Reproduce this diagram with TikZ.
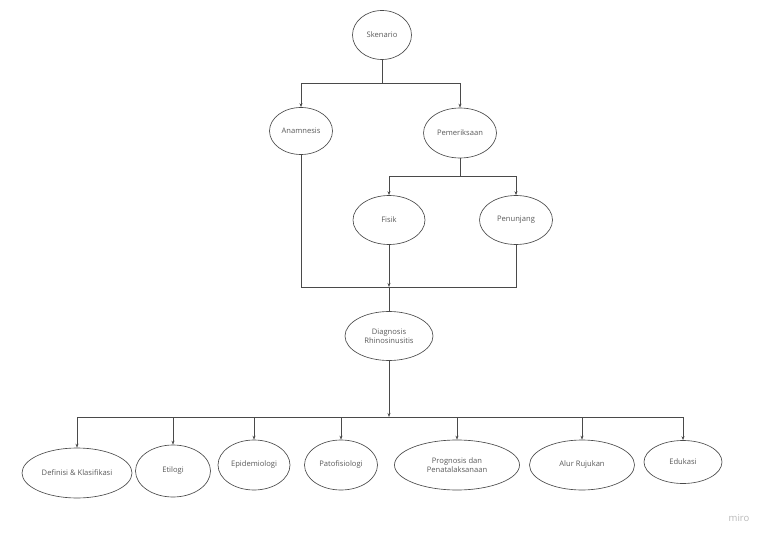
\documentclass[tikz,border=0pt]{standalone}
\usepackage{fontspec}
\setmainfont{Open Sans}
\usetikzlibrary{shapes.geometric,arrows.meta}

\definecolor{linegrey}{HTML}{4A4A4A}
\definecolor{textgrey}{HTML}{595959}

\begin{document}
\begin{tikzpicture}[x=1pt,y=-1pt,
                    topic/.style={ellipse,draw=linegrey,line width=0.65pt,inner sep=0pt,
                                  text=textgrey,font=\fontsize{7.6}{9.5}\selectfont,align=center},
                    link/.style={draw=linegrey,line width=0.65pt},
                    >={Stealth[length=4pt,width=3pt]}]

                    \useasboundingbox (0,0) rectangle (768,540);

                    % upper part
                    \node[topic,minimum width=59pt,minimum height=49pt] (sken) at (382,35) {Skenario};
                    \node[topic,minimum width=63pt,minimum height=47pt] (anam) at (301,131) {Anamnesis};
                    \node[topic,minimum width=73pt,minimum height=50pt] (pem) at (460,133) {Pemeriksaan};
                    \node[topic,minimum width=72pt,minimum height=49pt] (fis) at (389,220) {Fisik};
                    \node[topic,minimum width=73pt,minimum height=49pt] (pen) at (516,220) {Penunjang};
                    \node[topic,minimum width=88pt,minimum height=49pt] (diag) at (389,336) {Diagnosis\\Rhinosinusitis};

                    \coordinate (split) at (382,83);
                    \coordinate (exam) at (460,176);
                    \coordinate (merge) at (389,287);
                    \coordinate (branch) at (389,417);

                    \path[link] (sken.south) -- (split);
                    \path[link,->] (split) -| (anam.north);
                    \path[link,->] (split) -| (pem.north);
                    \path[link] (pem.south) -- (exam);
                    \path[link,->] (exam) -| (fis.north);
                    \path[link,->] (exam) -| (pen.north);
                    \path[link] (anam.south) |- (merge);
                    \path[link] (pen.south) |- (merge);
                    \path[link,->] (fis.south) -- (merge);
                    \path[link] (merge) -- (diag.north);
                    \path[link,->] (diag.south) -- (branch);

                    % lower part
                    \node[topic,minimum width=110pt,minimum height=50pt] (def) at (77,473) {Definisi \& Klasifikasi};
                    \node[topic,minimum width=75pt,minimum height=52pt] (eti) at (173,471) {Etilogi};
                    \node[topic,minimum width=72pt,minimum height=50pt] (epi) at (254,465) {Epidemiologi};
                    \node[topic,minimum width=73pt,minimum height=50pt] (pato) at (341,465) {Patofisiologi};
                    \node[topic,minimum width=125pt,minimum height=50pt] (prog) at (457,465) {Prognosis dan\\Penatalaksanaan};
                    \node[topic,minimum width=105pt,minimum height=50pt] (alur) at (582,465) {Alur Rujukan};
                    \node[topic,minimum width=78pt,minimum height=43pt] (edu) at (683,462) {Edukasi};

                    \foreach \child in {def,eti,epi,pato,prog,alur,edu}
                        \path[link,->] (branch) -| (\child.north);

                    \node[text=gray!55,font=\fontsize{9.5}{11}\selectfont] (miro) at (739,518) {miro};
                \end{tikzpicture}
\end{document}
